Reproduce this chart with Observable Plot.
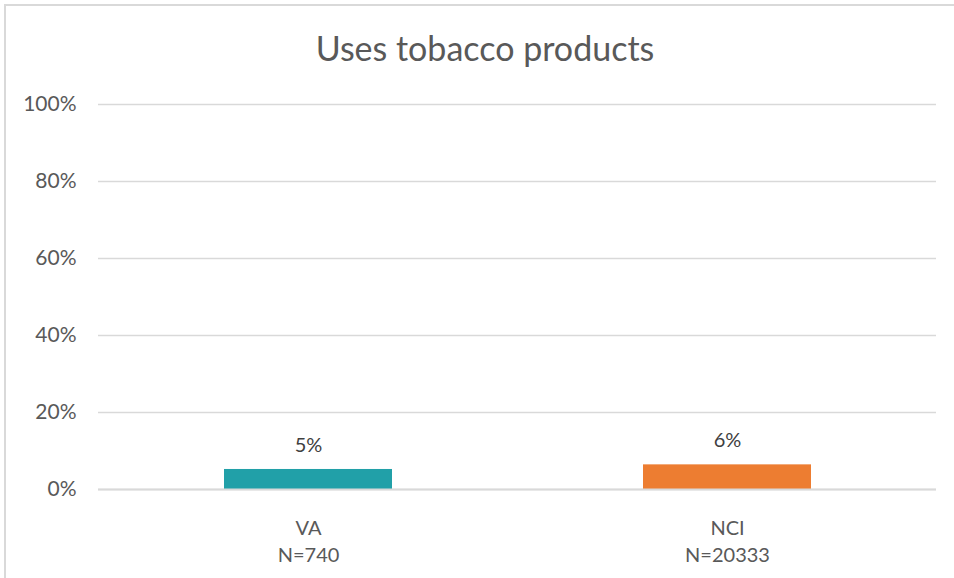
<!DOCTYPE html>
<html>
<head>
<meta charset="utf-8">
<script src="https://cdn.jsdelivr.net/npm/d3@7"></script>
<script src="https://cdn.jsdelivr.net/npm/@observablehq/plot@0.6"></script>
<style>
  html, body { margin: 0; padding: 0; background: #fff; }
  #wrap { position: relative; width: 954px; height: 578px; overflow: hidden; }
  #frame { position: absolute; left: 4px; top: 4px; width: 1000px; height: 1000px;
           border-top: 2px solid #d9d9d9; border-left: 2px solid #d9d9d9; box-sizing: border-box; }
  #title { position: absolute; left: 0; top: 31px; width: 970px; text-align: center;
           font-family: Lato, sans-serif; font-size: 34px; color: #595959; line-height: 1; }
  #chart { position: absolute; left: 0; top: 0; }
</style>
</head>
<body>
<div id="wrap">
  <div id="frame"></div>
  <div id="chart"></div>
  <div id="title">Uses tobacco products</div>
</div>
<script>
const categories = ["VA", "NCI"];
const sampleSizes = ["N=740", "N=20333"];
const values = [5.2, 6.4];
const valueLabels = ["5%", "6%"];
const colors = ["#21A0A8", "#ED7D31"];
const yTicks = [0, 20, 40, 60, 80, 100];

const data = categories.map((c, i) => ({
  cat: c, label: c + "\n" + sampleSizes[i], value: values[i], text: valueLabels[i], color: colors[i]
}));

const chart = Plot.plot({
  width: 954,
  height: 578,
  marginTop: 104,
  marginBottom: 89,
  marginLeft: 98,
  marginRight: 18,
  style: { fontFamily: "Lato, sans-serif", background: "transparent" },
  x: { domain: data.map(d => d.label), paddingInner: 0.6, paddingOuter: 0.3, label: null },
  y: { domain: [0, 100], label: null },
  marks: [
    Plot.ruleY(yTicks, { stroke: "#d9d9d9", strokeWidth: 1.3 }),
    Plot.barY(data, { x: "label", y: "value", fill: "color" }),
    Plot.ruleY([0], { stroke: "#d9d9d9", strokeWidth: 2 }),
    Plot.text(data, { x: "label", y: "value", text: "text", dy: -24, fontSize: 20, fill: "#404040" }),
    Plot.axisY({ ticks: yTicks, tickFormat: d => d + "%", tickSize: 0, tickPadding: 22, fontSize: 21, color: "#595959", label: null }),
    Plot.axisX({ tickSize: 0, tickPadding: 26, fontSize: 20, color: "#595959", lineHeight: 1.35, label: null })
  ]
});
document.getElementById("chart").appendChild(chart);
</script>
</body>
</html>
